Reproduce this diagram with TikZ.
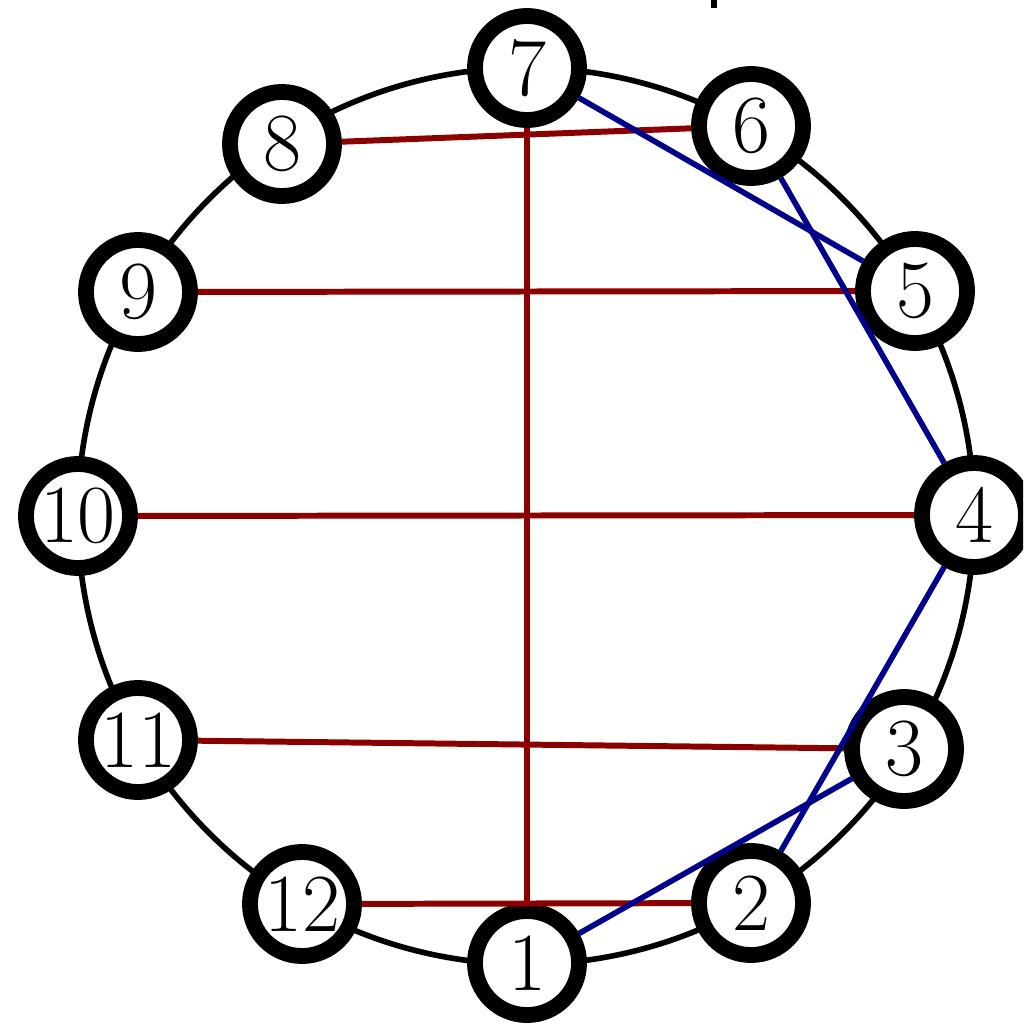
\documentclass[tikz,border=0pt]{standalone}
\usepackage{tikz}
\usetikzlibrary{arrows.meta}
\definecolor{chordred}{RGB}{139,0,0}
\definecolor{chordblue}{RGB}{0,0,139}

\begin{document}
\begin{tikzpicture}[x=0.01cm,y=-0.01cm,
    vtx/.style={circle,draw,line width=4.5pt,fill=white,inner sep=0pt,
      minimum size=1.04cm,font=\fontsize{23.5}{28}\selectfont},
    redchord/.style={chordred,line width=1.7pt},
    bluechord/.style={chordblue,line width=1.6pt}]
  \useasboundingbox (0,0) rectangle (1023,1024);
  \clip (0,0) rectangle (1023,1024);
  \fill (711,0) rectangle (717,8);
  % ring
  \draw[line width=1.6pt] (526,516) circle[radius=4.48cm];
  % vertices
  \node[vtx] (n1) at (527,963) {1};
  \node[vtx] (n2) at (751,903) {2};
  \node[vtx] (n3) at (904,749) {3};
  \node[vtx] (n4) at (974,515) {4};
  \node[vtx] (n5) at (915,291) {5};
  \node[vtx] (n6) at (751,126) {6};
  \node[vtx] (n7) at (527,68) {7};
  \node[vtx] (n8) at (282,144) {8};
  \node[vtx] (n9) at (138,292) {9};
  \node[vtx] (n10) at (78,516) {10};
  \node[vtx] (n11) at (138,740) {11};
  \node[vtx] (n12) at (302,904) {12};
  % chords
  \draw[redchord] (n7) -- (n1);
  \draw[redchord] (n8) -- (n6);
  \draw[redchord] (n9) -- (n5);
  \draw[redchord] (n10) -- (n4);
  \draw[redchord] (n11) -- (n3);
  \draw[redchord] (n12) -- (n2);
  \draw[bluechord] (n7) -- (n5);
  \draw[bluechord] (n6) -- (n4);
  \draw[bluechord] (n4) -- (n2);
  \draw[bluechord] (n3) -- (n1);
\end{tikzpicture}
\end{document}
